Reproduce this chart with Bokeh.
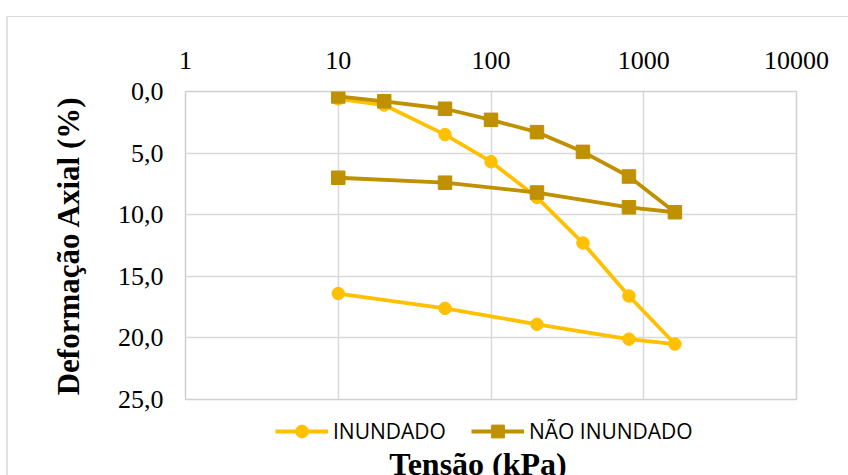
from bokeh.plotting import figure
from bokeh.layouts import column
from bokeh.models import Range1d, FixedTicker, Legend, LegendItem, Label
from bokeh.embed import file_html
from bokeh.resources import INLINE

# ---- data ----
tensao = [10, 20, 50, 100, 200, 400, 800, 1600, 800, 200, 50, 10]
inundado = [0.6, 1.1, 3.5, 5.7, 8.6, 12.3, 16.6, 20.5, 20.1, 18.9, 17.6, 16.4]
nao_inundado = [0.4, 0.8, 1.4, 2.3, 3.3, 4.9, 6.9, 9.8, 9.4, 8.2, 7.4, 7.0]
x_ticks = [1, 10, 100, 1000, 10000]
x_tick_labels = ["1", "10", "100", "1000", "10000"]
y_ticks = [0, 5, 10, 15, 20, 25]
y_tick_labels = ["0,0", "5,0", "10,0", "15,0", "20,0", "25,0"]
series_names = ["INUNDADO", "NÃO INUNDADO"]
x_title = "Tensão (kPa)"
y_title = "Deformação Axial (%)"

YELLOW = "#FFC000"
GOLD = "#BF9000"
GRID = "#d9d9d9"
LW = 3.8
CS = 12.5
SS = 13.5

# ---- main plot ----
p = figure(width=840, height=398, x_axis_type="log", x_axis_location="above",
           x_range=Range1d(1, 10000), y_range=Range1d(25, 0),
           output_backend="svg", toolbar_location=None,
           min_border_left=177, min_border_right=52, min_border_top=74, min_border_bottom=16)

p.outline_line_color = "#d0d0d0"
p.outline_line_width = 1.5

xa = p.xaxis[0]
xa.ticker = FixedTicker(ticks=x_ticks)
xa.major_label_overrides = {t: l for t, l in zip(x_ticks, x_tick_labels)}
ya = p.yaxis[0]
ya.ticker = FixedTicker(ticks=y_ticks)
ya.major_label_overrides = {t: l for t, l in zip(y_ticks, y_tick_labels)}

for ax in (xa, ya):
    ax.axis_line_color = None
    ax.major_tick_line_color = None
    ax.minor_tick_line_color = None
    ax.major_tick_out = 0
    ax.minor_tick_out = 0
    ax.major_label_text_font = "Liberation Serif"
    ax.major_label_text_font_size = "26px"
    ax.major_label_text_color = "black"
xa.major_label_standoff = 23
ya.major_label_standoff = 22

ya.axis_label = y_title
ya.axis_label_text_font = "Liberation Serif"
ya.axis_label_text_font_style = "bold"
ya.axis_label_text_font_size = "31px"
ya.axis_label_text_color = "black"
ya.axis_label_standoff = 29

p.xgrid.grid_line_color = GRID
p.ygrid.grid_line_color = GRID
p.xgrid.grid_line_width = 1.5
p.ygrid.grid_line_width = 1.5
p.xgrid.ticker = FixedTicker(ticks=x_ticks)
p.ygrid.ticker = FixedTicker(ticks=y_ticks)

p.line(tensao, inundado, line_color=YELLOW, line_width=LW)
p.scatter(tensao, inundado, marker="circle", size=CS, fill_color=YELLOW, line_color=YELLOW)
p.line(tensao, nao_inundado, line_color=GOLD, line_width=LW)
p.scatter(tensao, nao_inundado, marker="square", size=SS, fill_color=GOLD, line_color=GOLD)

# ---- bottom strip: legend + x-axis title (frame aligned with main plot) ----
p2 = figure(width=840, height=60, x_range=Range1d(-2, -1), y_range=Range1d(-2, -1),
            x_axis_location=None, y_axis_location=None,
            output_backend="svg", toolbar_location=None,
            min_border_left=0, min_border_right=0, min_border_top=0, min_border_bottom=0)
p2.outline_line_color = None
p2.xgrid.grid_line_color = None
p2.ygrid.grid_line_color = None

# same series, out of this strip's view: used only for the legend glyphs
l1 = p2.line(tensao, inundado, line_color=YELLOW, line_width=LW)
s1 = p2.scatter(tensao, inundado, marker="circle", size=CS, fill_color=YELLOW, line_color=YELLOW)
l2 = p2.line(tensao, nao_inundado, line_color=GOLD, line_width=LW)
s2 = p2.scatter(tensao, nao_inundado, marker="square", size=SS, fill_color=GOLD, line_color=GOLD)

legend = Legend(items=[LegendItem(label=series_names[0], renderers=[l1, s1]),
                       LegendItem(label=series_names[1], renderers=[l2, s2])],
                orientation="horizontal", location=(90, 28),
                label_text_font="Open Sans", label_text_font_size="21px",
                label_text_color="black", glyph_width=53, glyph_height=32,
                label_standoff=5, spacing=25, padding=5, margin=0,
                border_line_color=None, background_fill_alpha=0)
p2.add_layout(legend)

title = Label(x=292.5, y=12, x_units="screen", y_units="screen", text=x_title,
              text_font="Liberation Serif", text_font_style="bold",
              text_font_size="32px", text_align="center", text_baseline="alphabetic",
              text_color="black")
p2.add_layout(title)

layout = column(p, p2, spacing=0)
layout.styles = {"margin-top": "16px", "margin-left": "6px",
                 "border-top": "1px solid #dcdcdc", "border-left": "2px solid #e2e2e2"}

open("out.html", "w").write(file_html(layout, INLINE))
